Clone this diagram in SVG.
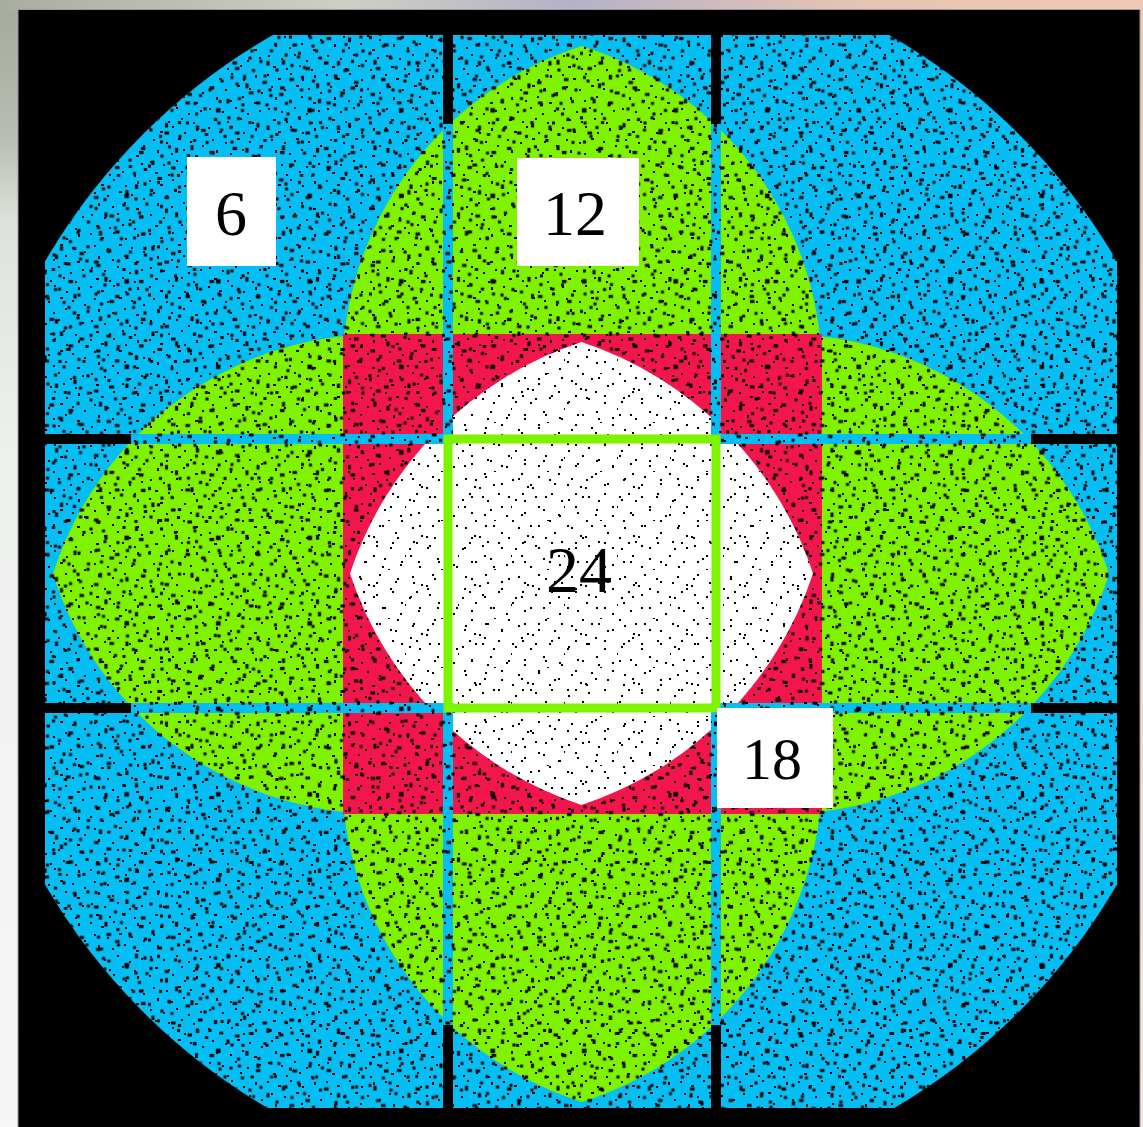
<svg xmlns="http://www.w3.org/2000/svg" width="1143" height="1127" viewBox="0 0 1143 1127">
<style>
 .lbl{font-family:"Liberation Serif","Times New Roman",serif;fill:#000;text-anchor:middle}
 .box{fill:#fff}
 .bl{fill:#05bff4}
 .gr{fill:#7ff200}
 .rd{fill:#f2164c}
 .dot{fill:#000}
</style>
<defs>
 <linearGradient id="gl" x1="0" y1="0" x2="0" y2="1">
  <stop offset="0" stop-color="#a4aa9e"/>
  <stop offset="0.12" stop-color="#b8bcb2"/>
  <stop offset="0.2" stop-color="#dfe2dc"/>
  <stop offset="0.4" stop-color="#eef0ee"/>
  <stop offset="1" stop-color="#f6f6f6"/>
 </linearGradient>
 <linearGradient id="gt" x1="0" y1="0" x2="1" y2="0">
  <stop offset="0" stop-color="#a9ad9f"/>
  <stop offset="0.3" stop-color="#cfcfc4"/>
  <stop offset="0.5" stop-color="#b4b2c8"/>
  <stop offset="0.75" stop-color="#e6c4b2"/>
  <stop offset="1" stop-color="#f0c8b4"/>
 </linearGradient>
 <linearGradient id="gr2" x1="0" y1="0" x2="0" y2="1">
  <stop offset="0" stop-color="#f0c6b0"/>
  <stop offset="1" stop-color="#f5e8e0"/>
 </linearGradient>
 <pattern id="pa" width="61" height="57" patternUnits="userSpaceOnUse" patternTransform="scale(1.5)">
  <path class="dot" d="M3 5h3v2h-3z M17 2h2v2h-2z M29 9h2v3h-2z M44 4h3v2h-3z M55 12h2v2h-2z M8 18h2v2h-2z M22 15h3v3h-3z M36 21h2v2h-2z M49 25h2v3h-2z M12 29h3v2h-3z M27 33h2v2h-2z M58 33h2v2h-2z M5 40h2v3h-2z M19 44h2v2h-2z M33 41h3v2h-3z M46 46h2v2h-2z M10 52h3v2h-3z M25 53h2v2h-2z M40 50h2v3h-2z M53 54h3v2h-3z M39 12h2v2h-2z M2 24h2v2h-2z M31 27h2v2h-2z M51 40h2v2h-2z M15 37h2v2h-2z M57 2h2v2h-2z M23 24h2v2h-2z M45 33h2v2h-2z M35 55h2v2h-2z M7 11h2v2h-2z"/>
 </pattern>
 <pattern id="pb" width="47" height="43" patternUnits="userSpaceOnUse" patternTransform="translate(13,7) scale(1.5)">
  <path class="dot" d="M4 3h2v2h-2z M14 8h2v3h-2z M26 2h2v2h-2z M37 10h3v2h-3z M9 17h2v2h-2z M21 20h3v2h-3z M33 24h2v2h-2z M43 19h2v2h-2z M2 30h2v2h-2z M16 33h2v2h-2z M28 36h2v3h-2z M40 31h2v2h-2z M7 40h3v2h-3z M34 41h2v2h-2z M22 12h2v2h-2z M44 38h2v2h-2z M11 25h2v2h-2z M30 15h2v2h-2z"/>
 </pattern>
 <pattern id="pe" width="59" height="53" patternUnits="userSpaceOnUse" patternTransform="translate(29,19)">
  <path class="dot" d="M2 2h2v2h-2z M13 6h3v2h-3z M25 1h2v2h-2z M37 7h2v2h-2z M49 3h2v3h-2z M6 14h2v2h-2z M19 17h2v2h-2z M31 13h3v2h-3z M43 16h2v2h-2z M55 20h2v2h-2z M10 25h2v3h-2z M24 28h2v2h-2z M36 24h2v2h-2z M48 30h3v2h-3z M3 36h2v2h-2z M16 39h2v2h-2z M29 35h2v2h-2z M41 41h2v2h-2z M53 38h2v2h-2z M8 47h3v2h-3z M21 49h2v2h-2z M34 46h2v2h-2z M46 50h2v2h-2z"/>
 </pattern>
 <pattern id="pc" width="53" height="49" patternUnits="userSpaceOnUse">
  <path class="dot" d="M5 6h2v2h-2z M21 3h2v2h-2z M38 9h2v2h-2z M47 22h2v2h-2z M13 19h2v2h-2z M29 25h2v2h-2z M8 35h2v2h-2z M41 37h2v2h-2z M24 42h2v2h-2z M50 45h2v2h-2z M17 30h2v1h-2z M34 16h1v2h-1z M2 46h2v2h-2z M45 3h2v2h-2z"/>
 </pattern>
 <pattern id="pd" width="37" height="41" patternUnits="userSpaceOnUse">
  <path class="dot" d="M6 8h2v2h-2z M20 14h2v2h-2z M31 28h2v2h-2z M12 33h2v2h-2z M27 4h2v2h-2z M3 22h2v2h-2z"/>
 </pattern>
 <path id="outer" d="M272.9,35 L889.1,35 A620,620 0 0 1 1117,261.4 L1117,884.6 A620,620 0 0 1 894.3,1108 L267.7,1108 A620,620 0 0 1 45,884.6 L45,261.4 A620,620 0 0 1 272.9,35 Z"/>
 <path id="lens" d="M0,-528 A344,344 0 0 0 -240,-200 L-240,200 A344,344 0 0 0 0,528 A344,344 0 0 0 240,200 L240,-200 A344,344 0 0 0 0,-528 Z"/>
 <path id="diamond" d="M581.5,342 A363,363 0 0 0 350,573.5 A363,363 0 0 0 581.5,805 A363,363 0 0 0 813,573.5 A363,363 0 0 0 581.5,342 Z"/>
 <clipPath id="cb"><use href="#outer"/></clipPath>
 <clipPath id="cx"><rect x="453" y="0" width="258" height="1127"/><rect x="0" y="444" width="1143" height="259"/></clipPath>
</defs>

<g id="photo-edge">
 <rect x="0" y="0" width="1143" height="1127" fill="#f4f4f4"/>
 <rect x="0" y="0" width="18" height="1127" fill="url(#gl)"/>
 <rect x="0" y="0" width="1143" height="10" fill="url(#gt)"/>
 <rect x="1140" y="0" width="3" height="1127" fill="url(#gr2)"/>
</g>

<g id="frame">
 <rect x="18" y="9.5" width="1122" height="1118" fill="#000" stroke="#9a9a9a" stroke-width="1"/>
</g>

<g id="zone-6">
 <use href="#outer" class="bl"/>
</g>

<g id="zone-12">
 <use href="#lens" class="gr" transform="translate(582,574)"/>
 <use href="#lens" class="gr" transform="translate(581,574) rotate(90)"/>
</g>

<g id="zone-18">
 <rect x="343" y="334" width="479" height="480" class="rd"/>
</g>

<g id="gaps">
 <path d="M448,35V1108M716,35V1108M45,439H1117M45,708H1117" stroke="#05bff4" stroke-width="10" fill="none"/>
 <path d="M448,35V124M716,35V124M448,1025V1108M716,1025V1108M45,439H131M45,708H131M1031,439H1117M1031,708H1117" stroke="#000" stroke-width="10" fill="none"/>
</g>

<g id="noise" clip-path="url(#cb)">
 <rect x="40" y="30" width="1080" height="1082" fill="url(#pa)"/>
 <rect x="40" y="30" width="1080" height="1082" fill="url(#pb)"/>
 <rect x="40" y="30" width="1080" height="1082" fill="url(#pe)"/>
</g>

<g id="zone-24" clip-path="url(#cx)">
 <use href="#diamond" fill="#fff"/>
 <use href="#diamond" fill="url(#pc)"/>
 <use href="#diamond" fill="url(#pd)"/>
</g>

<g id="center-gaps">
 <rect x="448" y="439" width="268" height="269" fill="none" stroke="#7ff200" stroke-width="9"/>
</g>

<g id="label-6">
 <rect class="box" x="187" y="157" width="89" height="109"/>
 <text class="lbl" x="231" y="235" font-size="64">6</text>
</g>
<g id="label-12">
 <rect class="box" x="517" y="158" width="122" height="108"/>
 <text class="lbl" x="575" y="235" font-size="64">12</text>
</g>
<g id="label-18">
 <rect class="box" x="717" y="708" width="116" height="100"/>
 <text class="lbl" x="772" y="779" font-size="60">18</text>
</g>
<g id="label-24">
 <text class="lbl" x="579" y="592" font-size="66">24</text>
</g>
</svg>
